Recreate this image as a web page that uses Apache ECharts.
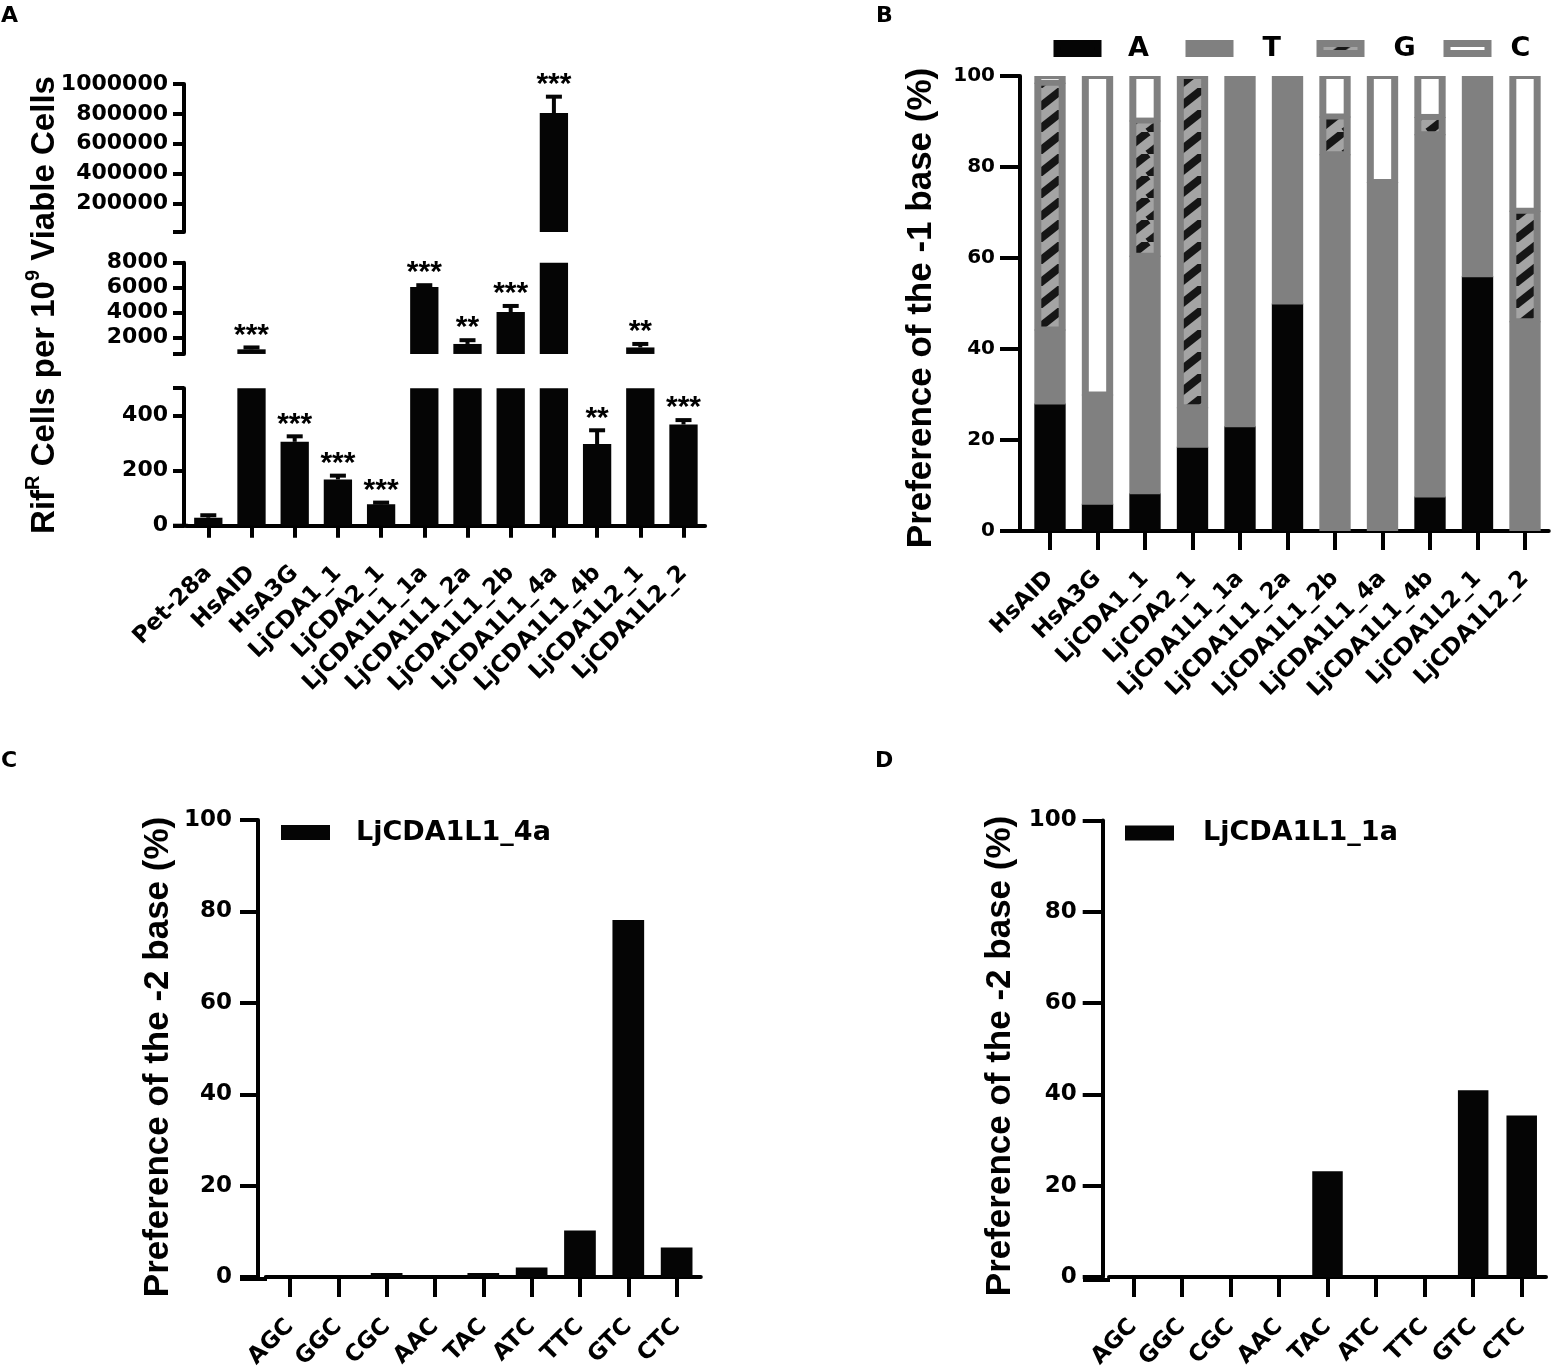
<!DOCTYPE html>
<html>
<head>
<meta charset="utf-8">
<script src="https://cdn.jsdelivr.net/npm/echarts@6/dist/echarts.min.js"></script>
<style>
html, body { margin: 0; padding: 0; background: #fff; }
#main { width: 1557px; height: 1372px; }
</style>
</head>
<body>
<div id="main"></div>
<script>
// ---- data ----
var mutants = ['Pet-28a', 'HsAID', 'HsA3G', 'LjCDA1_1', 'LjCDA2_1', 'LjCDA1L1_1a', 'LjCDA1L1_2a',
    'LjCDA1L1_2b', 'LjCDA1L1_4a', 'LjCDA1L1_4b', 'LjCDA1L2_1', 'LjCDA1L2_2'];
var rifMean = [29, 1070, 305, 168, 78, 6060, 1500, 4050, 805000, 297, 1220, 368];
var rifErr = [9, 150, 20, 14, 6, 140, 300, 490, 110000, 50, 280, 16];
var rifStars = ['', '***', '***', '***', '***', '***', '**', '***', '***', '**', '**', '***'];

// broken y axis of panel A: top, middle and lower piece
var rifRanges = [[8000, 1000000], [700, 8000], [0, 500]];
var rifTicks = [[8000, 200000, 400000, 600000, 800000, 1000000], [700, 2000, 4000, 6000, 8000], [0, 200, 400, 500]];
var rifLabels = [[200000, 400000, 600000, 800000, 1000000], [2000, 4000, 6000, 8000], [0, 200, 400]];

var baseCats = ['HsAID', 'HsA3G', 'LjCDA1_1', 'LjCDA2_1', 'LjCDA1L1_1a', 'LjCDA1L1_2a', 'LjCDA1L1_2b',
    'LjCDA1L1_4a', 'LjCDA1L1_4b', 'LjCDA1L2_1', 'LjCDA1L2_2'];
var baseA = [28, 6, 8.3, 18.5, 23, 50, 0, 0, 7.6, 56, 0];
var baseT = [16.3, 24, 52.2, 8.7, 77, 50, 82.8, 76.7, 79.6, 44, 46.1];
var baseG = [54.2, 0, 29.7, 72.8, 0, 0, 8.3, 0, 3.8, 0, 24.3];
var baseC = [1.5, 70, 9.8, 0, 0, 0, 8.9, 23.3, 9, 0, 29.6];

var tripletCats = ['AGC', 'GGC', 'CGC', 'AAC', 'TAC', 'ATC', 'TTC', 'GTC', 'CTC'];
var pref4a = [0, 0, 0.9, 0.2, 0.9, 2.1, 10.2, 78.1, 6.5];
var pref1a = [0, 0, 0, 0, 23.2, 0, 0, 40.9, 35.4];

// ---- look ----
var LBL = 'DejaVu Sans';
var TTL = 'Liberation Sans';
var BLACK = '#050505';
var GREY = '#808080';

function hatchCanvas() {
    var w = 28, h = 22;
    var c = document.createElement('canvas');
    c.width = w; c.height = h;
    var ctx = c.getContext('2d');
    ctx.fillStyle = '#a4a4a4';
    ctx.fillRect(0, 0, w, h);
    ctx.strokeStyle = '#161616';
    ctx.lineWidth = 8;
    for (var k = -1; k <= 1; k++) {
        ctx.beginPath();
        ctx.moveTo(k * w, h);
        ctx.lineTo(k * w + w, 0);
        ctx.stroke();
    }
    return c;
}
var hatch = { image: hatchCanvas(), repeat: 'repeat' };
var baseFill = [BLACK, GREY, hatch, '#ffffff'];

// grids: 0-2 panel A pieces, 3 panel B, 4 panel C, 5 panel D
var aLeft = 186.7, aWidth = 518.4;
var aTops = [84, 262.7, 388.2], aHeights = [147.9, 91.25, 137.5];
var grids = [];
for (var g = 0; g < 3; g++) grids.push({ left: aLeft, top: aTops[g], width: aWidth, height: aHeights[g] });
grids.push({ left: 1026.25, top: 76, width: 522.5, height: 455 });
grids.push({ left: 265.8, top: 820, width: 435, height: 459 });
grids.push({ left: 1109, top: 820.5, width: 437, height: 459.5 });

function numFmt(v) { return String(v); }

function yAx(idx, opt) {
    return {
        type: 'value', gridIndex: idx, min: opt.min, max: opt.max, interval: opt.interval,
        offset: opt.offset,
        splitLine: { show: false },
        axisLine: { show: true, lineStyle: { color: '#000', width: 4 } },
        axisTick: { show: true, length: opt.tickLen, lineStyle: { color: '#000', width: 4 }, customValues: opt.ticks },
        axisLabel: {
            margin: opt.margin, color: '#000', fontFamily: LBL, fontWeight: 'bold', fontSize: opt.fontSize,
            formatter: numFmt, customValues: opt.labels
        }
    };
}

function xAx(idx, cats, opt) {
    if (!opt) {
        return { type: 'category', gridIndex: idx, data: cats, show: false };
    }
    return {
        type: 'category', gridIndex: idx, data: cats,
        axisLine: { show: true, onZero: false, lineStyle: { color: '#000', width: 4 } },
        axisTick: { show: true, alignWithLabel: true, length: opt.tickLen, lineStyle: { color: '#000', width: 4 } },
        axisLabel: {
            interval: 0, rotate: 45, margin: opt.margin, color: '#000',
            fontFamily: LBL, fontWeight: 'bold', fontSize: opt.fontSize
        }
    };
}

var xAxes = [
    xAx(0, mutants), xAx(1, mutants), xAx(2, mutants, { tickLen: 12, margin: 44, fontSize: 23 }),
    xAx(3, baseCats, { tickLen: 19, margin: 44, fontSize: 23 }),
    xAx(4, tripletCats, { tickLen: 20, margin: 46, fontSize: 23 }),
    xAx(5, tripletCats, { tickLen: 20, margin: 46, fontSize: 23 })
];

var yAxes = [];
for (var s = 0; s < 3; s++) {
    yAxes.push(yAx(s, {
        min: rifRanges[s][0], max: rifRanges[s][1], offset: 2.7, tickLen: 11, margin: 16,
        fontSize: 22, ticks: rifTicks[s], labels: rifLabels[s]
    }));
}
yAxes.push(yAx(3, { min: 0, max: 100, interval: 20, offset: 6.25, tickLen: 20, margin: 25, fontSize: 20 }));
yAxes.push(yAx(4, { min: 0, max: 100, interval: 20, offset: 7.8, tickLen: 18, margin: 26, fontSize: 23 }));
yAxes.push(yAx(5, { min: 0, max: 100, interval: 20, offset: 6.3, tickLen: 20, margin: 26, fontSize: 23 }));

var series = [];

// panel A: the same bars in each piece, clipped by its range
for (var p = 0; p < 3; p++) {
    (function (p) {
        var lo = rifRanges[p][0], hi = rifRanges[p][1];
        series.push({
            type: 'bar', name: 'rif' + p, xAxisIndex: p, yAxisIndex: p,
            barWidth: 28.3, clip: true,
            itemStyle: { color: BLACK },
            data: rifMean.map(function (v) { return v > lo ? v : '-'; })
        });
        var errData = [];
        rifMean.forEach(function (v, i) {
            if (v > lo && v <= hi) errData.push([i, v, rifErr[i]]);
        });
        series.push({
            type: 'custom', name: 'err' + p, xAxisIndex: p, yAxisIndex: p, z: 5,
            encode: { x: 0, y: 1 },
            data: errData,
            renderItem: function (params, api) {
                var i = api.value(0), m = api.value(1), e = api.value(2);
                var top = api.coord([i, m + e]);
                var bot = api.coord([i, m]);
                var cap = 16;
                return {
                    type: 'group', children: [
                        { type: 'line', shape: { x1: top[0], y1: top[1], x2: bot[0], y2: bot[1] }, style: { stroke: BLACK, lineWidth: 4 } },
                        { type: 'line', shape: { x1: top[0] - cap / 2, y1: top[1], x2: top[0] + cap / 2, y2: top[1] }, style: { stroke: BLACK, lineWidth: 4 } },
                        {
                            type: 'text', x: top[0], y: top[1] - 12,
                            style: {
                                text: rifStars[i], fill: '#000', font: 'bold 30px "' + TTL + '"',
                                align: 'center', verticalAlign: 'middle'
                            }
                        }
                    ]
                };
            }
        });
    })(p);
}

// panel B: stacked composition drawn with inset outlines for G and C
var baseNames = ['A', 'T', 'G', 'C'];
var baseVals = [baseA, baseT, baseG, baseC];
baseNames.forEach(function (nm, k) {
    var data = baseCats.map(function (c, i) {
        var start = 0;
        for (var j = 0; j < k; j++) start += baseVals[j][i];
        return [i, start, start + baseVals[k][i]];
    });
    series.push({
        type: 'custom', name: nm, xAxisIndex: 3, yAxisIndex: 3,
        itemStyle: { color: k === 2 ? GREY : baseFill[k] },
        encode: { x: 0, y: [1, 2] },
        data: data,
        renderItem: function (params, api) {
            var i = api.value(0), st = api.value(1), en = api.value(2);
            if (en - st <= 0) return null;
            var p0 = api.coord([i, st]), p1 = api.coord([i, en]);
            var w = api.size([1, 0])[0] * 0.66;
            var x = p0[0] - w / 2, y = p1[1], h = p0[1] - p1[1];
            // overlap the segment below a little so no seam shows
            var hh = st > 0 ? h + 1 : h;
            var kids = [];
            if (k < 2) {
                kids.push({ type: 'rect', shape: { x: x, y: y, width: w, height: hh }, style: { fill: baseFill[k] } });
            } else {
                kids.push({ type: 'rect', shape: { x: x, y: y, width: w, height: hh }, style: { fill: GREY } });
                var ih = h - 6;
                if (ih > 0.8) {
                    kids.push({ type: 'rect', shape: { x: x + 7, y: y + 3, width: w - 14, height: ih }, style: { fill: baseFill[k] } });
                }
            }
            return { type: 'group', children: kids };
        }
    });
});

// panels C and D
series.push({
    type: 'bar', name: 'LjCDA1L1_4a', xAxisIndex: 4, yAxisIndex: 4, barWidth: 31.7,
    itemStyle: { color: BLACK }, data: pref4a
});
series.push({
    type: 'bar', name: 'LjCDA1L1_1a', xAxisIndex: 5, yAxisIndex: 5, barWidth: 30.5,
    itemStyle: { color: BLACK }, data: pref1a
});

// legends
var legendText = { color: '#000', fontFamily: LBL, fontWeight: 'bold', fontSize: 27 };
function baseLegend(k, left, pad) {
    return {
        left: left, top: 30, itemWidth: 41, itemHeight: 10, selectedMode: false,
        textStyle: Object.assign({ padding: [0, 0, 0, pad] }, legendText),
        data: [{
            name: baseNames[k], icon: 'rect',
            itemStyle: { color: baseFill[k], borderColor: k === 0 ? BLACK : GREY, borderWidth: 7 }
        }]
    };
}
var legends = [
    baseLegend(0, 1048.5, 25), baseLegend(1, 1180.5, 27.5), baseLegend(2, 1311.5, 27.5), baseLegend(3, 1438.5, 17.5),
    {
        left: 276, top: 814, itemWidth: 49, itemHeight: 15, selectedMode: false,
        textStyle: Object.assign({ padding: [0, 0, 0, 21] }, legendText),
        data: [{ name: 'LjCDA1L1_4a', icon: 'rect' }]
    },
    {
        left: 1120, top: 814.5, itemWidth: 49, itemHeight: 15, selectedMode: false,
        textStyle: Object.assign({ padding: [0, 0, 0, 24] }, legendText),
        data: [{ name: 'LjCDA1L1_1a', icon: 'rect' }]
    }
];

// titles, panel letters, the x axis stubs left of each y axis
var titleRich = {
    m: { fontFamily: TTL, fontWeight: 'bold', fontSize: 33, lineHeight: 38, verticalAlign: 'bottom', fill: '#000' },
    s: { fontFamily: TTL, fontWeight: 'bold', fontSize: 20, lineHeight: 20, verticalAlign: 'top', fill: '#000' },
    t: { fontFamily: TTL, fontWeight: 'bold', fontSize: 35, fill: '#000' }
};
function vTitle(x, y, txt) {
    return {
        type: 'text', x: x, y: y, rotation: Math.PI / 2,
        style: { text: txt, rich: titleRich, align: 'center', verticalAlign: 'middle', fill: '#000' }
    };
}
function letter(x, y, t) {
    return {
        type: 'text', x: x, y: y,
        style: { text: t, fill: '#000', font: 'bold 22px "' + LBL + '"', align: 'left', verticalAlign: 'top' }
    };
}
function stub(x1, x2, y) {
    return { type: 'line', shape: { x1: x1, y1: y, x2: x2, y2: y }, style: { stroke: '#000', lineWidth: 4 } };
}

var graphics = [
    letter(1, 5, 'A'), letter(876, 5, 'B'), letter(1, 750, 'C'), letter(875, 750, 'D'),
    vTitle(42.5, 305, '{m|Rif}{s|R}{m| Cells per 10}{s|9}{m| Viable Cells}'),
    vTitle(921, 308, '{t|Preference of the -1 base (%)}'),
    vTitle(158, 1057, '{t|Preference of the -2 base (%)}'),
    vTitle(1000.5, 1056, '{t|Preference of the -2 base (%)}'),
    stub(173, aLeft + 1, aTops[2] + aHeights[2]),
    stub(1000, 1027, 531),
    stub(240, 267, 1279),
    stub(1083, 1110, 1280)
];

var chart = echarts.init(document.getElementById('main'));
chart.setOption({
    animation: false,
    backgroundColor: '#fff',
    grid: grids,
    xAxis: xAxes,
    yAxis: yAxes,
    legend: legends,
    series: series,
    graphic: graphics
});
</script>
</body>
</html>
